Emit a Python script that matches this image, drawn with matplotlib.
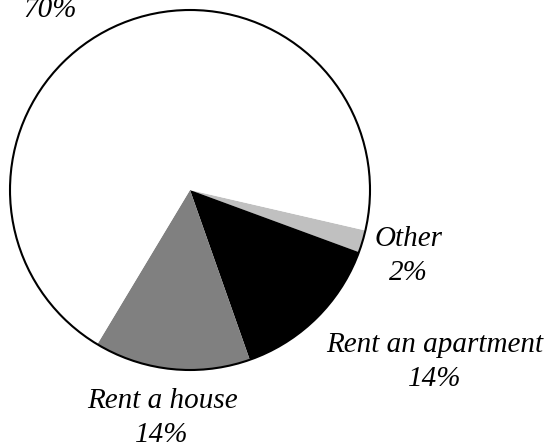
import numpy as np
import matplotlib.pyplot as plt
from matplotlib.patches import Circle

# Slice data (clockwise from the "Other" slice)
labels = ['Other', 'Rent an apartment', 'Rent a house', 'Own a home']
shares = [2, 14, 14, 70]
colors = ['#c0c0c0', '#000000', '#808080', '#ffffff']

# Label placement: angle (degrees) and distance from centre (in radii)
label_angles = [-16.8, -35.1, -97, 125.4]
label_dist = [1.27, 1.66, 1.276, 1.343]

fig = plt.figure(figsize=(5.51, 4.48), dpi=100)
ax = fig.add_axes([0, 0, 1, 1])

ax.pie(shares, colors=colors, startangle=-13, counterclock=False,
       radius=1.0, center=(0, 0), wedgeprops=dict(linewidth=0))
ax.add_patch(Circle((0, 0), 1.0, fill=False, edgecolor='black', linewidth=1.5))

for name, val, ang, d in zip(labels, shares, label_angles, label_dist):
    a = np.deg2rad(ang)
    ax.text(d * np.cos(a), d * np.sin(a), f'{name}\n{val}%',
            ha='center', va='center', fontsize=21, style='italic',
            family='Liberation Serif', linespacing=1.38)

ax.set_xlim(-190 / 180, 361 / 180)
ax.set_ylim(-258 / 180, 190 / 180)
ax.set_aspect('equal')
ax.axis('off')

fig.savefig('out.png', dpi=100)
